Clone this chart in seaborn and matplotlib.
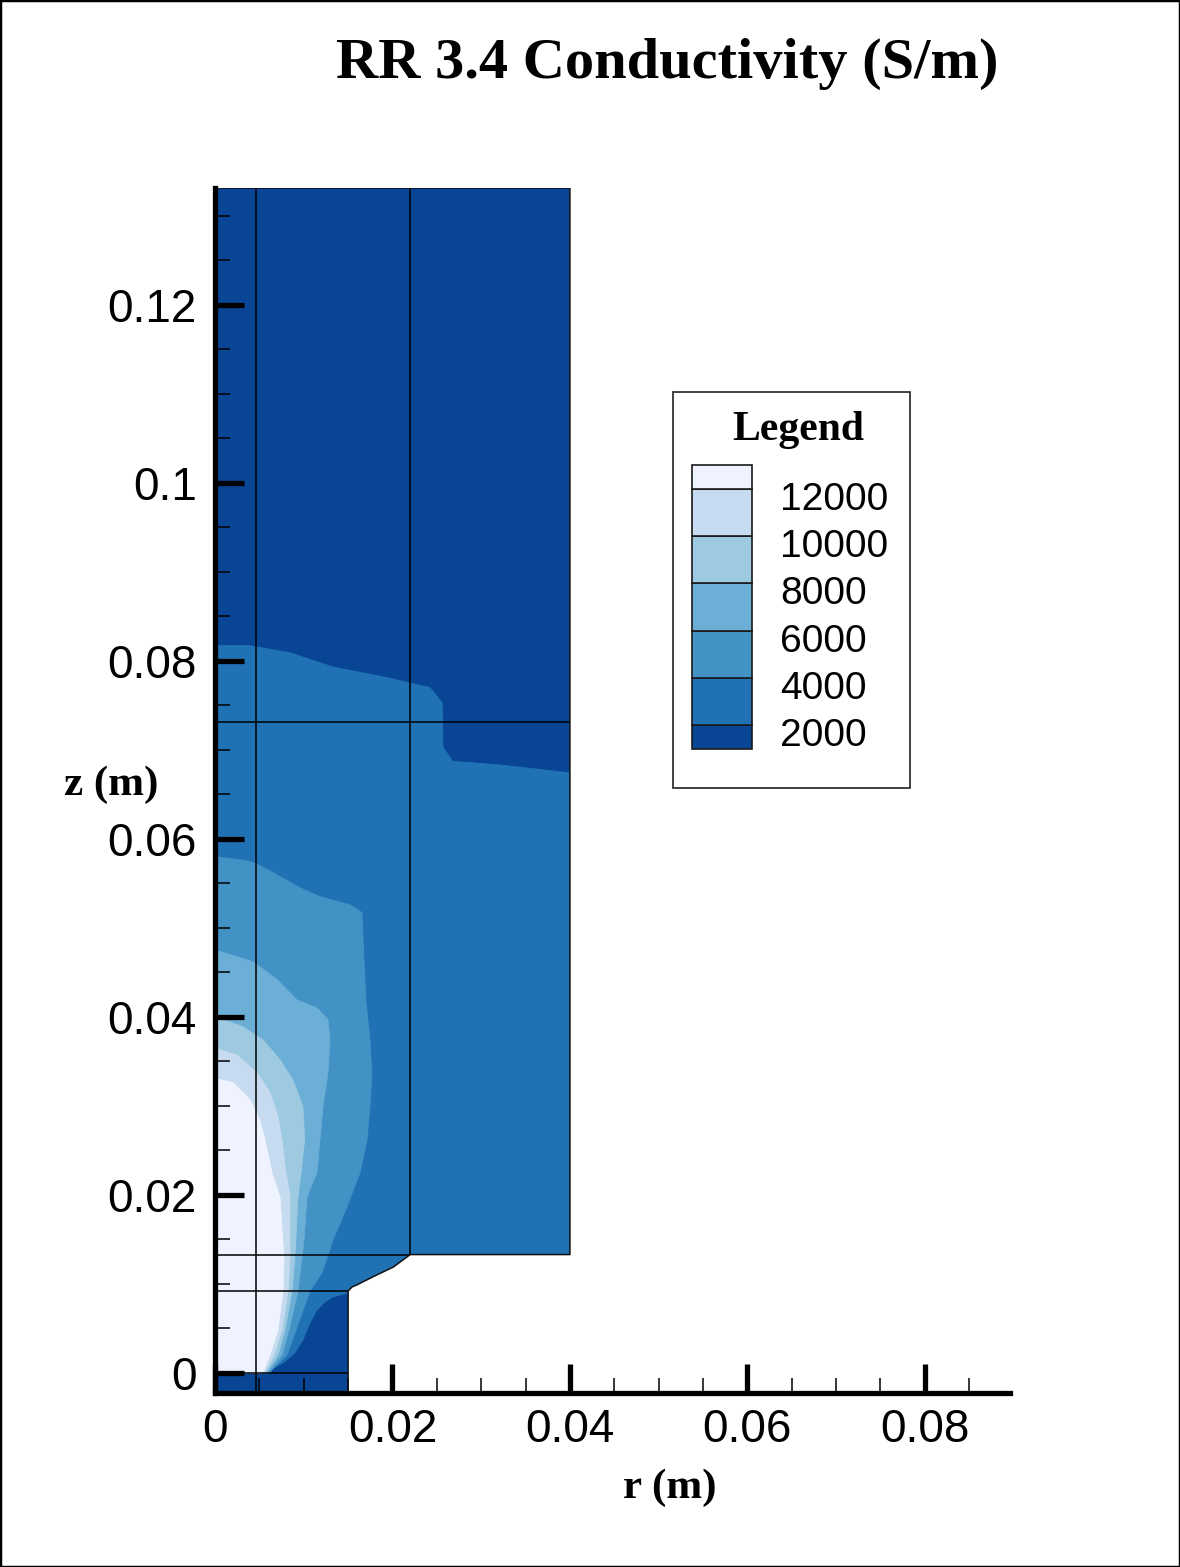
import numpy as np
import matplotlib
matplotlib.use("Agg")
import matplotlib.pyplot as plt
import matplotlib.transforms as mtransforms
from matplotlib.patches import Polygon, Rectangle
from matplotlib.ticker import MultipleLocator
import seaborn as sns

# ---------------------------------------------------------------- data
# Conductivity contour levels (S/m); band colours from the lowest band up
levels = [2000, 4000, 6000, 8000, 10000, 12000]
band_colors = ["#084594", "#2171b5", "#4292c6", "#6baed6",
               "#9ecae1", "#c6dbef", "#eff3ff"]

# Torch flow domain outline (m)
domain_r = [0.0, 0.015, 0.015, 0.01544, 0.0160, 0.0178, 0.0201, 0.0220,
            0.040, 0.040, 0.0]
domain_z = [-0.00225, -0.00225, 0.0092, 0.00966, 0.0099, 0.0108, 0.0119,
            0.0133, 0.0133, 0.1331, 0.1331]

# Iso-conductivity boundaries; each closes the region above its level
c2000_r = [0.0, 0.0039, 0.00845, 0.0133, 0.0194, 0.0220, 0.0242, 0.0256,
           0.0257, 0.0268, 0.0321, 0.0401, 0.045, 0.045, 0.0150, 0.0133,
           0.0124, 0.0115, 0.0107, 0.0099, 0.0090, 0.00766, 0.00654,
           0.00563, 0.0]
c2000_z = [0.0817, 0.0817, 0.0809, 0.0793, 0.0781, 0.0775, 0.0770, 0.0753,
           0.0703, 0.0687, 0.0683, 0.0674, 0.0674, 0.0092, 0.0090, 0.00854,
           0.0080, 0.00708, 0.00562, 0.00371, 0.00225, 0.00112, 0.00056,
           0.0, 0.0]

c4000_r = [0.0, 0.00315, 0.0045, 0.00654, 0.00958, 0.01183, 0.01521,
           0.01656, 0.01668, 0.01679, 0.0170, 0.01746, 0.01769, 0.01746,
           0.01713, 0.01634, 0.01487, 0.0133, 0.01206, 0.0107, 0.00913,
           0.00811, 0.00642, 0.0062, 0.0]
c4000_z = [0.0580, 0.0576, 0.0573, 0.0562, 0.0545, 0.0535, 0.0526, 0.0517,
           0.0490, 0.0464, 0.0419, 0.0374, 0.0337, 0.0299, 0.0262, 0.0225,
           0.01865, 0.01494, 0.01124, 0.0092, 0.00483, 0.00202, 0.00034,
           0.0, 0.0]

c6000_r = [0.0, 0.00428, 0.00699, 0.00924, 0.01149, 0.01273, 0.01296,
           0.01273, 0.01217, 0.01183, 0.01149, 0.01037, 0.01003, 0.0098,
           0.00935, 0.00834, 0.00755, 0.0062, 0.00597, 0.0]
c6000_z = [0.0475, 0.0462, 0.0442, 0.0419, 0.0410, 0.0397, 0.0374, 0.0337,
           0.0299, 0.0262, 0.0225, 0.0198, 0.0149, 0.0130, 0.0092, 0.00483,
           0.00202, 0.00034, 0.0, 0.0]

c8000_r = [0.0, 0.00315, 0.00541, 0.00732, 0.00879, 0.00992, 0.0101,
           0.0097, 0.00935, 0.00901, 0.00868, 0.00789, 0.0071, 0.00597,
           0.00575, 0.0]
c8000_z = [0.0400, 0.0389, 0.0374, 0.0352, 0.0329, 0.0299, 0.0262, 0.0225,
           0.0198, 0.0130, 0.0092, 0.00483, 0.00202, 0.00034, 0.0, 0.0]

c10000_r = [0.0, 0.00248, 0.00473, 0.0062, 0.0071, 0.00755, 0.0080,
            0.00845, 0.00845, 0.00823, 0.00755, 0.00665, 0.00575, 0.00552,
            0.0]
c10000_z = [0.0365, 0.0357, 0.0337, 0.0315, 0.0288, 0.0262, 0.0225, 0.0198,
            0.0130, 0.0092, 0.00483, 0.00202, 0.00034, 0.0, 0.0]

c12000_r = [0.0, 0.00203, 0.00394, 0.00507, 0.00563, 0.00642, 0.00732,
            0.00777, 0.00766, 0.0071, 0.0062, 0.00552, 0.0053, 0.0]
c12000_z = [0.0331, 0.0326, 0.0307, 0.0284, 0.0262, 0.0225, 0.0198, 0.0130,
            0.0092, 0.00483, 0.00202, 0.00034, 0.0, 0.0]

# Mesh block boundaries (r0, r1, z0, z1)
block_lines = [
    (0.00462, 0.00462, -0.00225, 0.1331),
    (0.0220, 0.0220, 0.0133, 0.1331),
    (0.0, 0.040, 0.0731, 0.0731),
    (0.0, 0.0220, 0.0133, 0.0133),
    (0.0, 0.015, 0.0092, 0.0092),
    (0.0, 0.015, 0.0, 0.0),
]

# Axis ticks
r_ticks = [0.0, 0.02, 0.04, 0.06, 0.08]
r_tick_labels = ["0", "0.02", "0.04", "0.06", "0.08"]
z_ticks = [0.0, 0.02, 0.04, 0.06, 0.08, 0.10, 0.12]
z_tick_labels = ["0", "0.02", "0.04", "0.06", "0.08", "0.1", "0.12"]

# ---------------------------------------------------------------- style
sns.set_theme(style="white")
plt.rcParams["font.family"] = ["Liberation Sans", "DejaVu Sans"]
serif = ["Liberation Serif", "DejaVu Serif"]
palette = sns.color_palette(band_colors)

W, H = 1180, 1567
fig = plt.figure(figsize=(W / 100, H / 100), dpi=100)
fig.patch.set_facecolor("white")

ax = fig.add_axes([215 / W, (H - 1393) / H, (1010 - 215) / W, (1393 - 188) / H])
ax.set_xlim(0.0, 0.0896)
ax.set_ylim(-0.00225, 0.1331)
ax.set_facecolor("white")
ax.set_axisbelow(False)

# Domain filled with the lowest band, then nested level regions on top
dom = Polygon(np.column_stack([domain_r, domain_z]), closed=True,
              facecolor=palette[0], edgecolor="none", zorder=1)
ax.add_patch(dom)

contours = [(c2000_r, c2000_z), (c4000_r, c4000_z), (c6000_r, c6000_z),
            (c8000_r, c8000_z), (c10000_r, c10000_z), (c12000_r, c12000_z)]
for i, (cr, cz) in enumerate(contours):
    patch = ax.fill(cr, cz, color=palette[i + 1], lw=0.6,
                    edgecolor=palette[i + 1], zorder=1.5 + 0.05 * i)[0]
    patch.set_clip_path(dom)

# Mesh block lines and domain outline
for r0, r1, z0, z1 in block_lines:
    ax.plot([r0, r1], [z0, z1], color="black", lw=1.1, zorder=3,
            solid_capstyle="butt")
ax.plot(domain_r + [domain_r[0]], domain_z + [domain_z[0]],
        color="#111111", lw=1.1, zorder=3)

# Axes, ticks and labels
sns.despine(ax=ax)
for side in ("left", "bottom"):
    ax.spines[side].set_linewidth(3.8)
    ax.spines[side].set_color("black")
    ax.spines[side].set_zorder(4)

ax.set_xticks(r_ticks)
ax.set_xticklabels(r_tick_labels)
ax.set_yticks(z_ticks)
ax.set_yticklabels(z_tick_labels)
ax.xaxis.set_minor_locator(MultipleLocator(0.005))
ax.yaxis.set_minor_locator(MultipleLocator(0.005))
ax.tick_params(which="both", direction="in", bottom=True, left=True,
               top=False, right=False, color="black")
ax.tick_params(which="major", length=21, width=3.8, labelsize=33,
               labelcolor="black")
ax.tick_params(axis="x", which="major", pad=11)
ax.tick_params(axis="y", which="major", pad=13)
ax.tick_params(which="minor", length=10.5, width=1.1)

ax.set_xlabel("r (m)", fontsize=31, fontweight="bold", family=serif,
              color="black")
ax.xaxis.label.set_va("center")
ax.xaxis.set_label_coords(0.572, -0.079)
ax.set_ylabel("z (m)", fontsize=31, fontweight="bold", family=serif,
              rotation=0, color="black")
ax.yaxis.label.set_va("center")
ax.yaxis.label.set_ha("center")
ax.yaxis.set_label_coords(-0.13, 0.505)

fig.text(667 / W, 1 - 64 / H, "RR 3.4 Conductivity (S/m)", ha="center",
         va="center", fontsize=42, fontweight="bold", family=serif,
         color="black")

# Legend box with banded colour key
fig.add_artist(Rectangle((673 / W, 1 - 788 / H), 237 / W, 396 / H,
                         transform=fig.transFigure, facecolor="white",
                         edgecolor="#333333", lw=1.3, zorder=5))
fig.text(798 / W, 1 - 430 / H, "Legend", ha="center", va="center",
         fontsize=30, fontweight="bold", family=serif, color="black",
         zorder=6)

lax = fig.add_axes([692 / W, 1 - 749 / H, 60 / W, 284 / H], zorder=6)
edges = [levels[0] - 1000] + levels + [levels[-1] + 1000]
lax.set_xlim(0, 1)
lax.set_ylim(edges[0], edges[-1])
for i in range(len(edges) - 1):
    lax.bar(0.5, edges[i + 1] - edges[i], bottom=edges[i], width=1.0,
            color=palette[i], edgecolor="#1a1a1a", lw=1.2, clip_on=False)
lax.axis("off")
label_trans = mtransforms.offset_copy(
    mtransforms.blended_transform_factory(lax.transAxes, lax.transData),
    fig=fig, x=0, y=-8, units="points")
for lv in levels:
    lax.text(1.47, lv, f"{lv}", transform=label_trans, ha="left",
             va="center", fontsize=28, color="black")

# Outer frame
fig.add_artist(Rectangle((0, 0), 1, 1, transform=fig.transFigure,
                         fill=False, edgecolor="black", lw=2.5,
                         clip_on=False, zorder=10))

fig.savefig("out.png", dpi=100, facecolor="white")
